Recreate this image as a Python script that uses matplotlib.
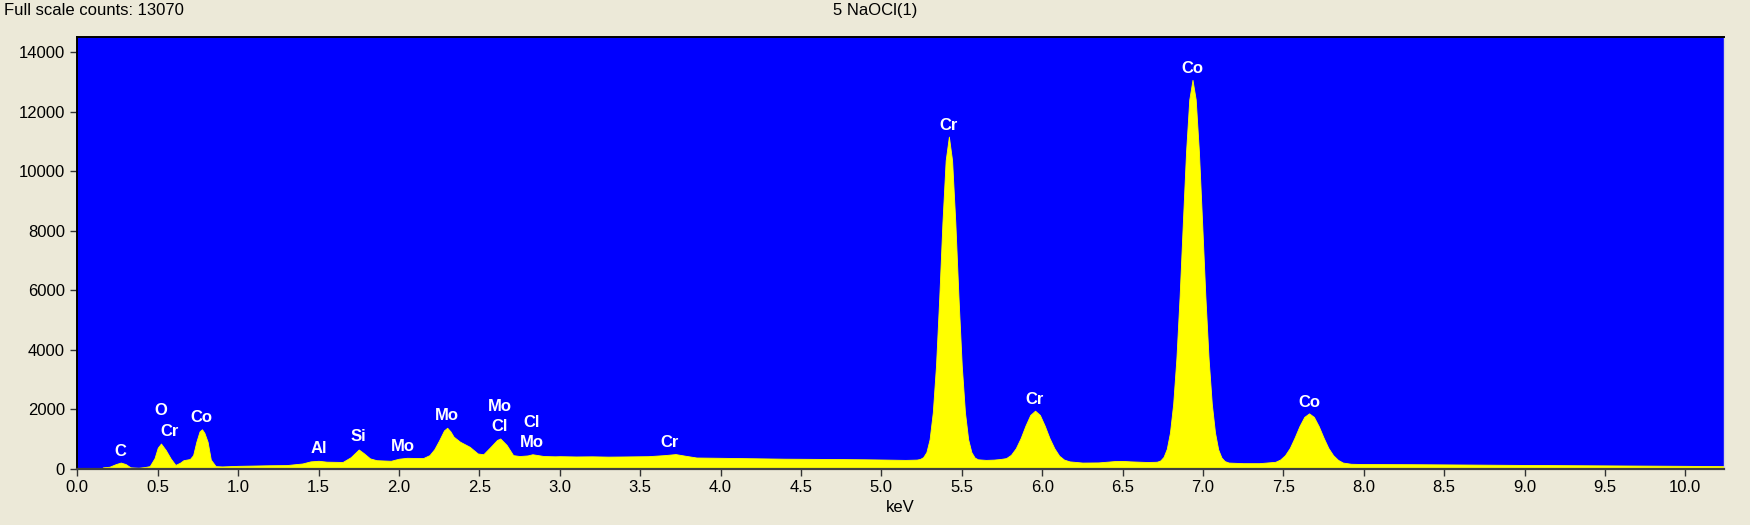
import numpy as np
import matplotlib
matplotlib.use("Agg")
import matplotlib.pyplot as plt

plt.rcParams['font.family'] = ['Liberation Sans', 'DejaVu Sans']

# --- spectrum (keV, counts) ---
kev = [
    0.00, 0.15, 0.16, 0.20, 0.24, 0.27, 0.30, 0.33, 0.38, 0.42, 0.45, 0.48, 0.50, 0.52,
    0.55, 0.58, 0.61, 0.64, 0.66, 0.70, 0.72, 0.74, 0.76, 0.775, 0.79, 0.81, 0.83, 0.86,
    0.90, 1.00, 1.10, 1.20, 1.30, 1.40, 1.45, 1.50, 1.55, 1.65, 1.70, 1.75, 1.78, 1.82,
    1.86, 1.95, 2.00, 2.05, 2.15, 2.19, 2.22, 2.25, 2.28, 2.30, 2.32, 2.34, 2.38, 2.44,
    2.49, 2.525, 2.57, 2.61, 2.63, 2.67, 2.71, 2.75, 2.80, 2.83, 2.90, 2.97, 3.00, 3.10,
    3.20, 3.30, 3.40, 3.55, 3.65, 3.72, 3.78, 3.85, 4.00, 4.20, 4.40, 4.50, 4.70, 4.90,
    5.00, 5.15, 5.22, 5.24, 5.26, 5.28, 5.30, 5.32, 5.34, 5.36, 5.38, 5.40, 5.42, 5.44,
    5.46, 5.48, 5.50, 5.52, 5.54, 5.56, 5.58, 5.60, 5.65, 5.70, 5.74, 5.776, 5.806, 5.836,
    5.866, 5.896, 5.926, 5.956, 5.986, 6.016, 6.046, 6.076, 6.106, 6.136, 6.17, 6.25,
    6.35, 6.45, 6.50, 6.55, 6.65, 6.70, 6.715, 6.735, 6.755, 6.775, 6.795, 6.815, 6.835,
    6.855, 6.875, 6.895, 6.915, 6.935, 6.955, 6.975, 6.995, 7.015, 7.035, 7.055, 7.075,
    7.095, 7.115, 7.135, 7.16, 7.25, 7.35, 7.45, 7.48, 7.51, 7.54, 7.57, 7.60, 7.63,
    7.66, 7.69, 7.72, 7.75, 7.78, 7.81, 7.84, 7.87, 7.92, 8.00, 8.30, 8.60, 9.00, 9.50,
    10.00, 10.24,
]
counts = [
    0, 0, 40, 60, 150, 200, 150, 40, 25, 50, 80, 350, 700, 840,
    620, 340, 120, 200, 280, 320, 450, 900, 1250, 1320, 1200, 900, 300, 80,
    70, 90, 100, 110, 115, 170, 240, 260, 230, 220, 380, 640, 520, 340,
    280, 260, 330, 360, 350, 450, 650, 950, 1280, 1370, 1250, 1070, 900, 730,
    505, 480, 730, 960, 1010, 790, 450, 420, 440, 480, 420, 410, 415, 405,
    410, 400, 405, 415, 450, 485, 430, 370, 360, 345, 330, 327, 320, 310,
    303, 290, 300, 320, 380, 550, 980, 1890, 3470, 5730, 8280, 10360, 11160, 10360,
    8280, 5730, 3470, 1890, 980, 550, 370, 310, 290, 300, 320, 350, 460, 680,
    1020, 1440, 1800, 1945, 1800, 1440, 1020, 680, 430, 300, 240, 200,
    205, 250, 255, 240, 220, 225, 230, 270, 390, 660, 1210, 2180, 3710,
    5800, 8260, 10650, 12410, 13070, 12410, 10650, 8260, 5800, 3710, 2180, 1210,
    640, 370, 250, 200, 180, 180, 225, 300, 445, 690, 1040, 1425, 1735,
    1855, 1735, 1425, 1040, 690, 445, 290, 200, 160, 150, 145, 135, 120, 105,
    90, 80,
]

# element labels (text, keV, counts)
label_text = ['C', 'O', 'Cr', 'Co', 'Al', 'Si', 'Mo', 'Mo', 'Mo', 'Cl', 'Cl', 'Mo',
              'Cr', 'Cr', 'Cr', 'Co', 'Co']
label_kev = [0.266, 0.52, 0.572, 0.774, 1.50, 1.748, 2.027, 2.30, 2.625, 2.625, 2.826, 2.826,
             3.686, 5.42, 5.95, 6.934, 7.66]
label_cnt = [583, 1940, 1257, 1705, 674, 1065, 750, 1786, 2100, 1402, 1550, 876,
             876, 11550, 2335, 13460, 2224]

full_scale = 13070
sample_name = "5 NaOCl(1)"

bg = '#ECE9D8'
fig = plt.figure(figsize=(17.5, 5.25), dpi=100, facecolor=bg)
ax = fig.add_axes([0.0442, 0.1076, 0.9409, 0.8214])
ax.set_facecolor('#0000FF')

ax.fill_between(kev, counts, 0, color='#FFFF00', linewidth=0.6, edgecolor='#FFFF00')

for t, xk, yc in zip(label_text, label_kev, label_cnt):
    ax.text(xk, yc, t, color='white', fontsize=12, fontweight='bold',
            ha='center', va='center')

ax.set_xlim(0, 10.24)
ax.set_ylim(0, 14500)
ax.set_xticks(np.arange(0, 10.01, 0.5))
ax.set_xticklabels([f"{v:.1f}" for v in np.arange(0, 10.01, 0.5)])
ax.set_yticks(np.arange(0, 14001, 2000))
ax.set_yticklabels([str(v) for v in range(0, 14001, 2000)])
ax.tick_params(axis='both', direction='out', length=5, width=1, color='#333333',
               labelsize=12, labelcolor='black')
ax.tick_params(axis='y', pad=4)
ax.tick_params(axis='x', pad=3)

ax.spines['left'].set_color('black')
ax.spines['top'].set_color('black')
ax.spines['left'].set_linewidth(1.4)
ax.spines['top'].set_linewidth(1.4)
ax.spines['bottom'].set_color('#404040')
ax.spines['bottom'].set_linewidth(1.6)
ax.spines['right'].set_color('#d8d8d8')
ax.spines['right'].set_linewidth(1.0)

ax.set_xlabel('keV', fontsize=12, labelpad=4, color='black')

fig.text(0.002, 0.995, f"Full scale counts: {full_scale}", fontsize=12,
         ha='left', va='top', color='black')
fig.text(0.5, 0.995, sample_name, fontsize=12, ha='center', va='top', color='black')

fig.savefig('out.png', dpi=100, facecolor=bg)
